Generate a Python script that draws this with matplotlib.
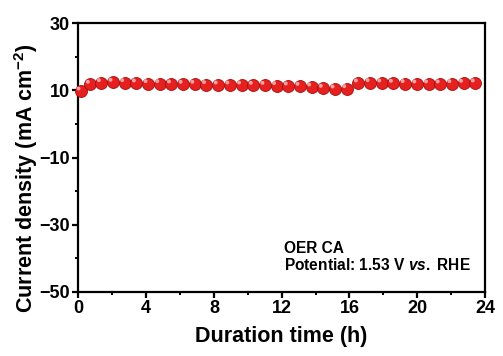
import matplotlib
matplotlib.use("Agg")
import matplotlib.pyplot as plt
from matplotlib.transforms import offset_copy

plt.rcParams['font.family'] = ['Liberation Sans', 'DejaVu Sans']
plt.rcParams['mathtext.fontset'] = 'custom'
plt.rcParams['mathtext.rm'] = 'Liberation Sans:bold'
plt.rcParams['mathtext.bf'] = 'Liberation Sans:bold'
plt.rcParams['mathtext.it'] = 'Liberation Sans:bold:italic'

# Data
time_h = [0.15, 0.7, 1.35, 2.04, 2.73, 3.42, 4.11, 4.80, 5.49, 6.18, 6.87,
          7.56, 8.25, 8.94, 9.63, 10.32, 11.01, 11.70, 12.39, 13.08, 13.77,
          14.46, 15.15, 15.84, 16.53, 17.22, 17.91, 18.60, 19.29, 19.98,
          20.67, 21.36, 22.05, 22.74, 23.43]
current_density = [9.8, 11.8, 12.3, 12.4, 12.3, 12.2, 12.0, 12.0, 11.9, 11.8,
                   11.8, 11.7, 11.6, 11.6, 11.6, 11.5, 11.5, 11.4, 11.3, 11.2,
                   11.0, 10.6, 10.4, 10.5, 12.2, 12.3, 12.2, 12.1, 12.0, 11.9,
                   11.9, 11.9, 12.0, 12.1, 12.2]

x_ticks = [0, 4, 8, 12, 16, 20, 24]
y_ticks = [-50, -30, -10, 10, 30]
annot_lines = ["OER CA", r"Potential: 1.53 V $\mathit{vs.}$ RHE"]

fig = plt.figure(figsize=(5.03, 3.56), dpi=100)
ax = fig.add_axes([0.156, 0.180, 0.808, 0.755])

ax.scatter(time_h, current_density, s=74, color='#e5201f',
           edgecolors='#a30f12', linewidths=0.6, zorder=3, clip_on=False)
hl = offset_copy(ax.transData, fig=fig, x=-1.8, y=1.8, units='points')
ax.scatter(time_h, current_density, s=8, color='#ffb8b8', edgecolors='none',
           alpha=0.85, transform=hl, zorder=4, clip_on=False)

ax.set_xlim(0, 24)
ax.set_ylim(-50, 30)
ax.set_xticks(x_ticks)
ax.set_yticks(y_ticks)
ax.set_xticks([2, 6, 10, 14, 18, 22], minor=True)
ax.set_yticks([-40, -20, 0, 20], minor=True)

for s in ax.spines.values():
    s.set_linewidth(1.6)
ax.tick_params(which='major', direction='out', length=4, width=1.6,
               labelsize=13, pad=2, top=False, right=False)
ax.tick_params(which='minor', direction='out', length=2.5, width=1.4,
               top=False, right=False)
for lab in ax.get_xticklabels() + ax.get_yticklabels():
    lab.set_fontweight('bold')

ax.set_xlabel('Duration time (h)', fontsize=15.5, fontweight='bold', labelpad=6)
ax.set_ylabel(r'Current density (mA cm$^{-2}$)', fontsize=15.5,
              fontweight='bold')
ax.yaxis.label.set_rotation_mode('default')
ax.yaxis.label.set_va('center')
ax.yaxis.label.set_ha('center')
ax.yaxis.set_label_coords(-0.129, 0.424)

ax.text(0.505, 0.145, annot_lines[0], transform=ax.transAxes, fontsize=11.2,
        fontweight='bold', va='baseline')
ax.text(0.505, 0.082, annot_lines[1], transform=ax.transAxes, fontsize=11.2,
        fontweight='bold', va='baseline')

fig.savefig('out.png', dpi=100)
